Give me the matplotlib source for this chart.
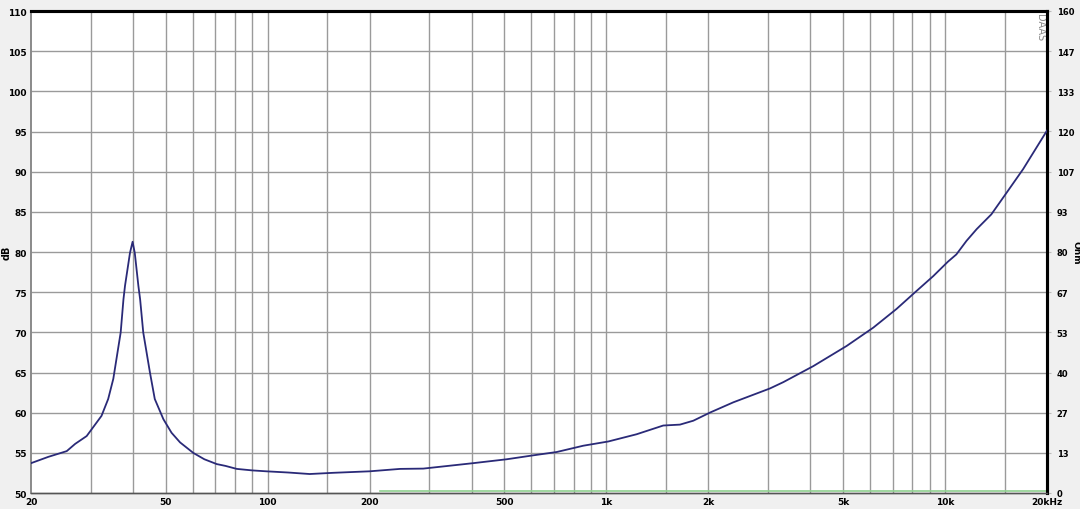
import matplotlib
matplotlib.use("Agg")
import matplotlib.pyplot as plt
import numpy as np

# impedance curve (Hz, Ohm)
freq = [20, 22.5, 25.5, 27, 29.2, 32.3, 33.8, 35.0, 36.8, 37.5, 37.9, 39.2, 39.9,
        40.5, 41.5, 42.0, 42.9, 44.9, 46.4, 49.2, 52, 55.1, 60.3, 65, 70.7, 75,
        81, 90, 99, 115, 133, 156, 200, 246, 288, 404, 508, 608,
        713, 855, 1013, 1228, 1472, 1649, 1806, 2023, 2370, 3040, 3330, 4080,
        5120, 6140, 7190, 8150, 9230, 10200, 10800, 11570, 12400, 13700, 15200,
        17000, 20000]
ohm = [9.9, 12.0, 13.9, 16.3, 18.9, 25.6, 31.2, 37.9, 53.3, 64.3, 68.8, 79.7, 83.4,
       79.7, 68.8, 64.3, 53.3, 40.0, 31.2, 24.5, 20.0, 16.8, 13.3, 11.2, 9.6, 9.0,
       8.0, 7.5, 7.2, 6.8, 6.3, 6.7, 7.2, 8.0, 8.1, 9.9, 11.2, 12.5,
       13.6, 15.7, 17.1, 19.5, 22.4, 22.7, 24.0, 26.7, 30.1, 34.7, 36.8, 42.1,
       48.8, 54.9, 61.1, 66.6, 72.0, 76.8, 79.2, 83.7, 87.6, 92.5, 99.7,
       107.5, 120.3]

# SPL trace, sits on the bottom edge
spl_freq = [214, 20000]
spl_db = [50.25, 50.25]

xticks = [20, 50, 100, 200, 500, 1000, 2000, 5000, 10000, 20000]
xlabels = ["20", "50", "100", "200", "500", "1k", "2k", "5k", "10k", "20kHz"]
db_ticks = list(range(50, 111, 5))
ohm_ticks = [k * 160 / 12 for k in range(13)]

grid_f = []
for dec in [10, 100, 1000, 10000]:
    for m in [1, 1.5, 2, 3, 4, 5, 6, 7, 8, 9]:
        f = m * dec
        if 20 < f < 20000 and not (dec == 10 and m == 1.5):
            grid_f.append(f)

fig = plt.figure(figsize=(10.8, 5.1), dpi=100, facecolor="#f0f0f0")
ax = fig.add_axes([31 / 1080, 1 - 494 / 510, 1016 / 1080, 482 / 510])
ax.set_facecolor("white")
ax.set_xscale("log")
ax.set_xlim(20, 20000)
ax.set_ylim(50, 110)

for f in grid_f:
    ax.axvline(f, color="#9a9a9a", lw=1, zorder=1)
for d in db_ticks[1:-1]:
    ax.axhline(d, color="#9a9a9a", lw=1, zorder=1)

ax.plot(spl_freq, spl_db, color="#8fd08f", lw=1.2, zorder=3)

ax.set_xticks(xticks)
ax.set_xticklabels(xlabels)
ax.xaxis.set_minor_locator(matplotlib.ticker.NullLocator())
ax.set_yticks(db_ticks)
ax.tick_params(axis="both", length=0, labelsize=6.5, pad=3)
for lab in ax.get_xticklabels() + ax.get_yticklabels():
    lab.set_fontweight("bold")

ax2 = ax.twinx()
ax2.set_ylim(0, 160)
ax2.plot(freq, ohm, color="#2a2a78", lw=1.3, zorder=4)
ax2.set_yticks(ohm_ticks)
ax2.set_yticklabels([str(int(round(v))) for v in ohm_ticks])
ax2.tick_params(axis="y", length=3, color="#bbbbbb", labelsize=6, pad=4)
for lab in ax2.get_yticklabels():
    lab.set_fontweight("bold")

fig.text(7 / 1080, 1 - 253 / 510, "dB", rotation=90, ha="center", va="center",
         fontsize=7, fontweight="bold")
fig.text(1076 / 1080, 1 - 253 / 510, "Ohm", rotation=270, ha="center", va="center",
         fontsize=6.5, fontweight="bold")

for a in (ax, ax2):
    a.spines["top"].set_color("black")
    a.spines["top"].set_linewidth(2.2)
    a.spines["right"].set_color("black")
    a.spines["right"].set_linewidth(2.2)
    a.spines["left"].set_color("#8a8a8a")
    a.spines["left"].set_linewidth(1.2)
    a.spines["bottom"].set_color("#555555")
    a.spines["bottom"].set_linewidth(1.0)

ax.text(0.9985, 0.995, "DAAS", transform=ax.transAxes, rotation=270,
        ha="right", va="top", fontsize=7, color="#8a8a8a")

fig.savefig("out.png", dpi=100, facecolor=fig.get_facecolor())
